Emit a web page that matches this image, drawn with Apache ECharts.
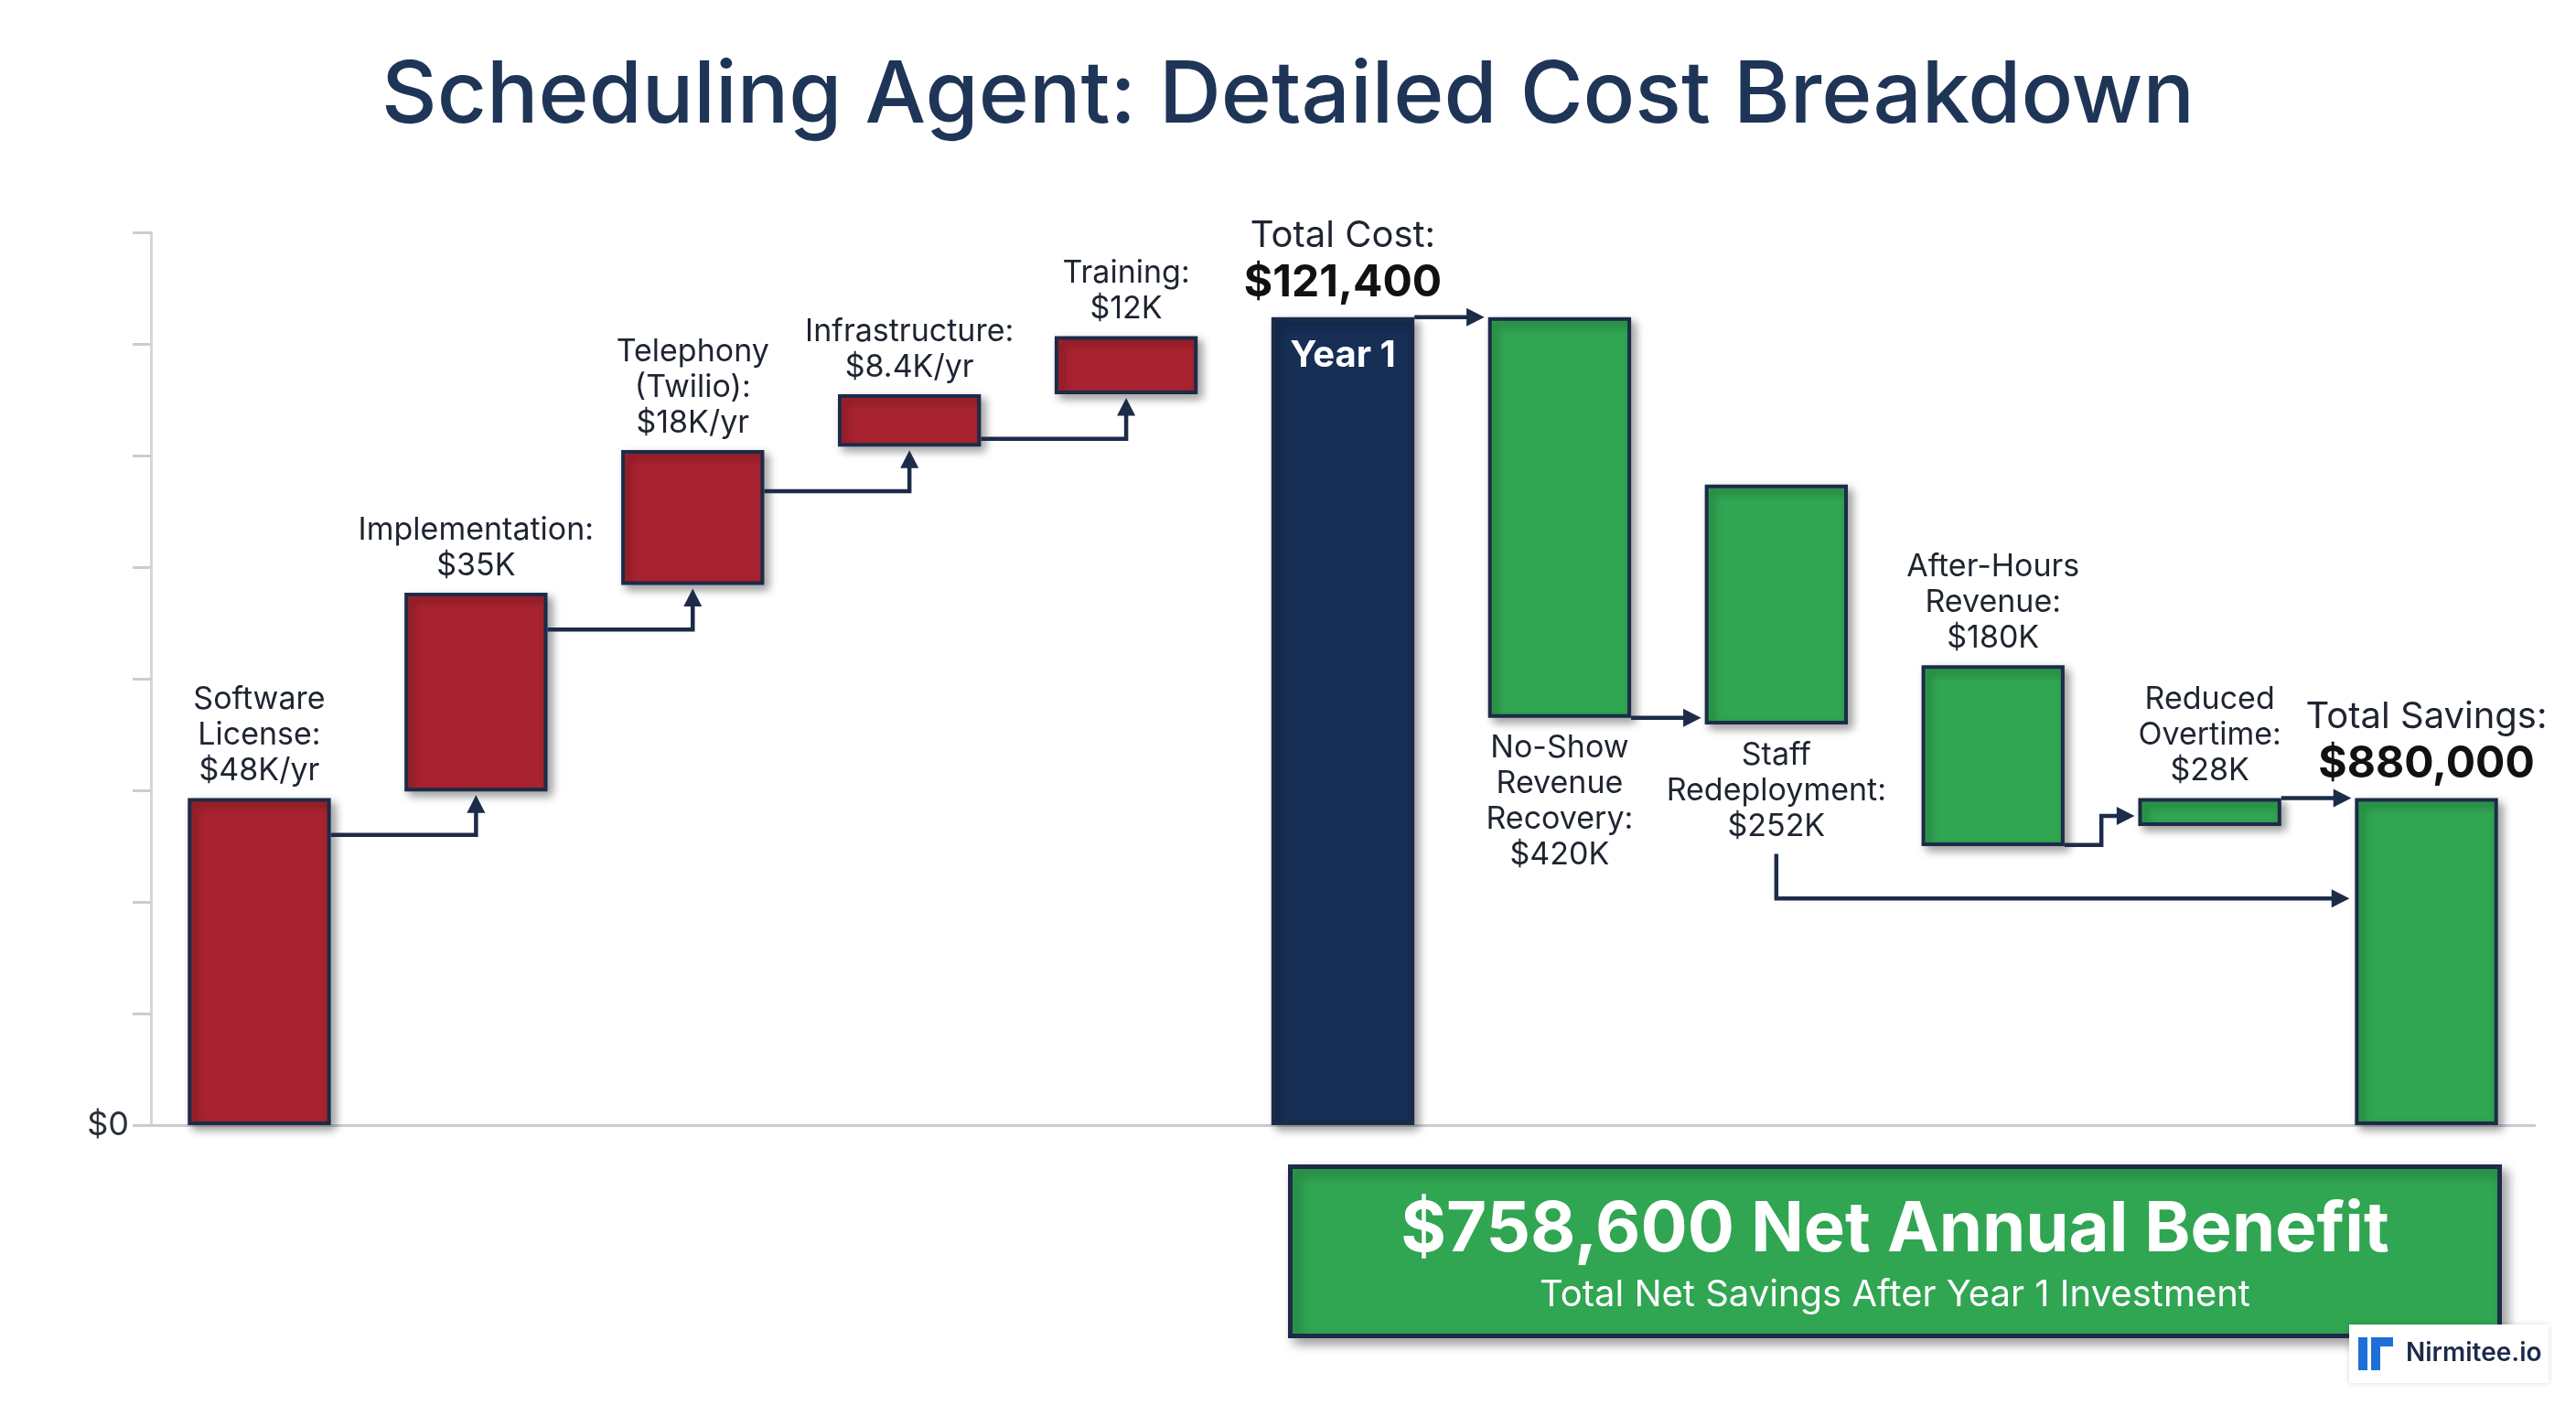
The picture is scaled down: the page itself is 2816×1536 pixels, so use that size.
<!DOCTYPE html>
<html>
<head>
<meta charset="utf-8">
<script src="https://cdn.jsdelivr.net/npm/echarts@6/dist/echarts.min.js"></script>
<style>html,body{margin:0;padding:0;background:#fff}#main{width:2816px;height:1536px}</style>
</head>
<body>
<div id="main"></div>
<script>
// categories and bar extents (axis units, baseline = 0)
var categories = ['Software', 'Implementation', 'Telephony', 'Infrastructure', 'Training', 'Year 1',
    'No-Show', 'Staff', 'After-Hours', 'Reduced', 'Total Savings'];
var barBottom = [0, 2.99, 4.84, 6.08, 6.55, 0, 3.65, 3.59, 2.50, 2.68, 0];
var barTop = [2.93, 4.77, 6.05, 6.55, 7.07, 7.24, 7.24, 5.74, 4.12, 2.93, 2.93];
var barKind = ['cost', 'cost', 'cost', 'cost', 'cost', 'total', 'save', 'save', 'save', 'save', 'save'];
var barLabels = [
    'Software\nLicense:\n$48K/yr', 'Implementation:\n$35K', 'Telephony\n(Twilio):\n$18K/yr',
    'Infrastructure:\n$8.4K/yr', 'Training:\n$12K', '{n|Total Cost:}\n{b|$121,400}',
    'No-Show\nRevenue\nRecovery:\n$420K', 'Staff\nRedeployment:\n$252K', 'After-Hours\nRevenue:\n$180K',
    'Reduced\nOvertime:\n$28K', '{n|Total Savings:}\n{b|$880,000}'
];
var labelBelow = [false, false, false, false, false, false, true, true, false, false, false];
// connectors: [from, to, lineLevel, endLevel, type]
var connectors = [
    [0, 1, 2.60, 2.99, 'up'],
    [1, 2, 4.44, 4.84, 'up'],
    [2, 3, 5.68, 6.08, 'up'],
    [3, 4, 6.15, 6.55, 'up'],
    [5, 6, 7.24, 7.24, 'right'],
    [6, 7, 3.65, 3.65, 'right'],
    [8, 9, 2.51, 2.77, 'step'],
    [9, 10, 2.93, 2.93, 'right'],
    [7, 10, 2.43, 2.03, 'under']
];

var colors = { cost: '#A8232F', total: '#172E55', save: '#30A552' };
var edge = '#1C2B48';
var barRatio = 0.66;

var chart = echarts.init(document.getElementById('main'));

var baseData = barBottom.slice();
var valueData = barTop.map(function(t, i) {
    return {
        value: +(t - barBottom[i]).toFixed(3),
        itemStyle: { color: colors[barKind[i]] },
        label: {
            show: true,
            position: labelBelow[i] ? 'bottom' : 'top',
            distance: labelBelow[i] ? 14 : 10,
            formatter: barLabels[i]
        }
    };
});

function renderConnector(params, api) {
    var from = api.value(0), to = api.value(1), yl = api.value(2), ye = api.value(3), type = connectors[params.dataIndex][4];
    var band = api.size([1, 0])[0];
    var hw = band * barRatio / 2;
    var pF = api.coord([from, yl]);
    var pT = api.coord([to, ye]);
    var pts, dir;
    if (type === 'up') {
        pts = [[pF[0] + hw, pF[1]], [pT[0], pF[1]], [pT[0], pT[1] + 4]];
        dir = 'up';
    } else if (type === 'right') {
        pts = [[pF[0] + hw, pF[1]], [pT[0] - hw - 4, pF[1]]];
        dir = 'right';
    } else if (type === 'step') {
        var mx = pF[0] + hw + (band - 2 * hw) * 0.5;
        pts = [[pF[0] + hw, pF[1]], [mx, pF[1]], [mx, pT[1]], [pT[0] - hw - 4, pT[1]]];
        dir = 'right';
    } else {
        pts = [[pF[0], pF[1]], [pF[0], pT[1]], [pT[0] - hw - 6, pT[1]]];
        dir = 'right';
    }
    var e = pts[pts.length - 1], a = 14, w = 10, head;
    if (dir === 'up') head = [[e[0], e[1]], [e[0] - w, e[1] + a * 1.4], [e[0] + w, e[1] + a * 1.4]];
    else head = [[e[0], e[1]], [e[0] - a * 1.4, e[1] - w], [e[0] - a * 1.4, e[1] + w]];
    var last = pts.slice();
    last[last.length - 1] = dir === 'up' ? [e[0], e[1] + a] : [e[0] - a, e[1]];
    return {
        type: 'group',
        children: [
            { type: 'polyline', shape: { points: last }, style: { stroke: edge, lineWidth: 4.5, fill: null } },
            { type: 'polygon', shape: { points: head }, style: { fill: edge } }
        ]
    };
}

var option = {
    backgroundColor: '#ffffff',
    title: {
        text: 'Scheduling Agent: Detailed Cost Breakdown',
        left: 'center',
        top: 54,
        textStyle: { fontFamily: 'Inter', fontSize: 94, fontWeight: 500, color: '#1F3557' }
    },
    grid: { left: 165, right: 45, top: 254, bottom: 306 },
    xAxis: {
        type: 'category',
        data: categories,
        axisLine: { lineStyle: { color: '#C9CDD3', width: 3 } },
        axisTick: { show: false },
        axisLabel: { show: false }
    },
    yAxis: {
        type: 'value',
        min: 0,
        max: 8,
        interval: 1,
        splitLine: { show: false },
        axisLine: { show: true, lineStyle: { color: '#D3D6DB', width: 3 } },
        axisTick: { show: true, length: 20, lineStyle: { color: '#C9CDD3', width: 3 } },
        axisLabel: {
            fontFamily: 'Inter', fontSize: 36, color: '#2A2F3A', margin: 24,
            formatter: function(v) { return v === 0 ? '$0' : ''; }
        }
    },
    series: [{
        type: 'bar',
        stack: 'w',
        data: baseData,
        barWidth: (barRatio * 100) + '%',
        itemStyle: { color: 'transparent' },
        silent: true
    }, {
        type: 'bar',
        stack: 'w',
        data: valueData,
        barWidth: (barRatio * 100) + '%',
        itemStyle: {
            borderColor: edge, borderWidth: 4,
            shadowColor: 'rgba(0,0,0,0.35)', shadowBlur: 10, shadowOffsetX: 5, shadowOffsetY: 5
        },
        label: {
            fontFamily: 'Inter', fontSize: 34, color: '#1E2430', lineHeight: 39, align: 'center',
            rich: {
                n: { fontFamily: 'Inter', fontSize: 40, color: '#1E2430', lineHeight: 50 },
                b: { fontFamily: 'Inter', fontSize: 48, fontWeight: 'bold', color: '#111', lineHeight: 54 }
            }
        },
        markPoint: {
            symbol: 'rect',
            symbolSize: 0,
            data: [{
                coord: ['Year 1', barTop[5]],
                label: {
                    show: true, position: 'bottom', distance: 22, formatter: 'Year 1',
                    fontFamily: 'Inter', fontSize: 40, fontWeight: 'bold', color: '#fff'
                }
            }]
        }
    }, {
        type: 'custom',
        renderItem: renderConnector,
        data: connectors.map(function(c) { return [c[0], c[1], c[2], c[3]]; }),
        encode: { x: 0, y: 2 },
        z: 5,
        silent: true
    }],
    graphic: [{
        type: 'group',
        left: 1408,
        top: 1273,
        children: [{
            type: 'rect',
            shape: { x: 0, y: 0, width: 1322, height: 185 },
            style: { fill: '#30A552', stroke: edge, lineWidth: 5, shadowColor: 'rgba(0,0,0,0.35)', shadowBlur: 12, shadowOffsetX: 6, shadowOffsetY: 6 }
        }, {
            type: 'text',
            style: { text: '$758,600 Net Annual Benefit', x: 661, y: 70, align: 'center', verticalAlign: 'middle',
                font: 'bold 76px Inter', fill: '#fff' }
        }, {
            type: 'text',
            style: { text: 'Total Net Savings After Year 1 Investment', x: 661, y: 140, align: 'center', verticalAlign: 'middle',
                font: '40px Inter', fill: '#fff' }
        }]
    }, {
        type: 'group',
        left: 2568,
        top: 1448,
        children: [{
            type: 'rect', shape: { x: 0, y: 0, width: 218, height: 64 },
            style: { fill: '#fff', shadowColor: 'rgba(0,0,0,0.15)', shadowBlur: 6 }
        }, {
            type: 'rect', shape: { x: 10, y: 14, width: 10, height: 36 }, style: { fill: '#1E6FD9' }
        }, {
            type: 'polygon', shape: { points: [[24, 14], [48, 14], [48, 24], [34, 24], [34, 50], [24, 50]] }, style: { fill: '#1E6FD9' }
        }, {
            type: 'text', style: { text: 'Nirmitee.io', x: 62, y: 32, verticalAlign: 'middle', font: '600 28px Inter', fill: '#1B2B4A' }
        }]
    }]
};

chart.setOption(option);
</script>
</body>
</html>
